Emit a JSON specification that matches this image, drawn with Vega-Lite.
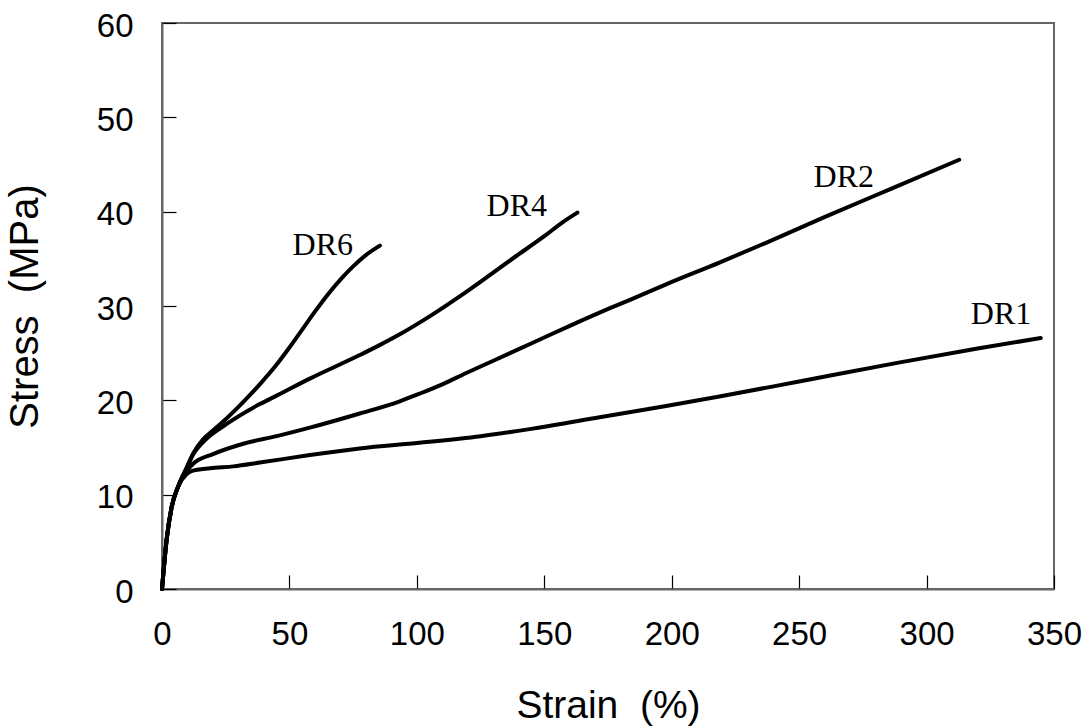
{
  "$schema": "https://vega.github.io/schema/vega-lite/v6.json",
  "autosize": "none",
  "width": 892,
  "height": 566,
  "padding": {"left": 162, "top": 23, "right": 32, "bottom": 138},
  "background": "white",
  "config": {
    "view": {"stroke": "#666666", "strokeWidth": 2},
    "axis": {
      "grid": false,
      "labelFont": "Liberation Sans",
      "labelFontSize": 33,
      "labelColor": "black",
      "labelFlush": false,
      "titleFont": "Liberation Sans",
      "titleFontSize": 39,
      "titleFontWeight": "normal",
      "titleColor": "black",
      "domainColor": "#666666",
      "domainWidth": 2,
      "tickColor": "black",
      "tickWidth": 1.2,
      "tickSize": -14,
      "labelPadding": 43
    }
  },
  "datasets": {
    "curves": [
      {"series": "DR1", "strain": 0, "stress": 0},
      {"series": "DR1", "strain": 1.8, "stress": 5.2},
      {"series": "DR1", "strain": 3.8, "stress": 8.7},
      {"series": "DR1", "strain": 6.4, "stress": 10.9},
      {"series": "DR1", "strain": 9.7, "stress": 12.2},
      {"series": "DR1", "strain": 11.6, "stress": 12.5},
      {"series": "DR1", "strain": 18.8, "stress": 12.8},
      {"series": "DR1", "strain": 28, "stress": 13.0},
      {"series": "DR1", "strain": 38.4, "stress": 13.4},
      {"series": "DR1", "strain": 58, "stress": 14.2},
      {"series": "DR1", "strain": 77.6, "stress": 14.9},
      {"series": "DR1", "strain": 101, "stress": 15.5},
      {"series": "DR1", "strain": 125, "stress": 16.2},
      {"series": "DR1", "strain": 145.5, "stress": 17.0},
      {"series": "DR1", "strain": 171.7, "stress": 18.2},
      {"series": "DR1", "strain": 197.8, "stress": 19.4},
      {"series": "DR1", "strain": 218.7, "stress": 20.4},
      {"series": "DR1", "strain": 250, "stress": 22.0},
      {"series": "DR1", "strain": 289, "stress": 24.0},
      {"series": "DR1", "strain": 320, "stress": 25.5},
      {"series": "DR1", "strain": 344.8, "stress": 26.6},

      {"series": "DR2", "strain": 0, "stress": 0},
      {"series": "DR2", "strain": 1.8, "stress": 5.2},
      {"series": "DR2", "strain": 3.8, "stress": 8.7},
      {"series": "DR2", "strain": 6.4, "stress": 10.9},
      {"series": "DR2", "strain": 9.7, "stress": 12.5},
      {"series": "DR2", "strain": 12.3, "stress": 13.3},
      {"series": "DR2", "strain": 20, "stress": 14.3},
      {"series": "DR2", "strain": 31.9, "stress": 15.4},
      {"series": "DR2", "strain": 45, "stress": 16.2},
      {"series": "DR2", "strain": 58, "stress": 17.1},
      {"series": "DR2", "strain": 77.6, "stress": 18.6},
      {"series": "DR2", "strain": 93.3, "stress": 19.9},
      {"series": "DR2", "strain": 101, "stress": 20.7},
      {"series": "DR2", "strain": 110, "stress": 21.7},
      {"series": "DR2", "strain": 119.4, "stress": 22.9},
      {"series": "DR2", "strain": 130, "stress": 24.2},
      {"series": "DR2", "strain": 145.5, "stress": 26.1},
      {"series": "DR2", "strain": 160, "stress": 27.9},
      {"series": "DR2", "strain": 171.7, "stress": 29.3},
      {"series": "DR2", "strain": 185, "stress": 30.8},
      {"series": "DR2", "strain": 197.8, "stress": 32.3},
      {"series": "DR2", "strain": 218.7, "stress": 34.6},
      {"series": "DR2", "strain": 237, "stress": 36.7},
      {"series": "DR2", "strain": 260.6, "stress": 39.5},
      {"series": "DR2", "strain": 286.7, "stress": 42.5},
      {"series": "DR2", "strain": 312.8, "stress": 45.5},

      {"series": "DR4", "strain": 0, "stress": 0},
      {"series": "DR4", "strain": 1.8, "stress": 5.2},
      {"series": "DR4", "strain": 3.8, "stress": 8.7},
      {"series": "DR4", "strain": 6.4, "stress": 10.9},
      {"series": "DR4", "strain": 9.7, "stress": 12.8},
      {"series": "DR4", "strain": 12.3, "stress": 14.3},
      {"series": "DR4", "strain": 16.2, "stress": 15.6},
      {"series": "DR4", "strain": 25.4, "stress": 17.5},
      {"series": "DR4", "strain": 38.4, "stress": 19.6},
      {"series": "DR4", "strain": 45, "stress": 20.5},
      {"series": "DR4", "strain": 58, "stress": 22.3},
      {"series": "DR4", "strain": 77.6, "stress": 24.8},
      {"series": "DR4", "strain": 85, "stress": 25.8},
      {"series": "DR4", "strain": 93.3, "stress": 27.0},
      {"series": "DR4", "strain": 105, "stress": 28.9},
      {"series": "DR4", "strain": 119.4, "stress": 31.5},
      {"series": "DR4", "strain": 139, "stress": 35.3},
      {"series": "DR4", "strain": 150, "stress": 37.4},
      {"series": "DR4", "strain": 157.3, "stress": 38.9},
      {"series": "DR4", "strain": 163, "stress": 39.9},

      {"series": "DR6", "strain": 0, "stress": 0},
      {"series": "DR6", "strain": 1.8, "stress": 5.2},
      {"series": "DR6", "strain": 3.8, "stress": 8.7},
      {"series": "DR6", "strain": 6.4, "stress": 10.9},
      {"series": "DR6", "strain": 9.7, "stress": 12.9},
      {"series": "DR6", "strain": 12.3, "stress": 14.4},
      {"series": "DR6", "strain": 16.2, "stress": 15.9},
      {"series": "DR6", "strain": 20, "stress": 16.8},
      {"series": "DR6", "strain": 25, "stress": 18.0},
      {"series": "DR6", "strain": 30, "stress": 19.3},
      {"series": "DR6", "strain": 35, "stress": 20.7},
      {"series": "DR6", "strain": 40, "stress": 22.2},
      {"series": "DR6", "strain": 45, "stress": 23.8},
      {"series": "DR6", "strain": 50, "stress": 25.6},
      {"series": "DR6", "strain": 55, "stress": 27.5},
      {"series": "DR6", "strain": 60, "stress": 29.4},
      {"series": "DR6", "strain": 65, "stress": 31.2},
      {"series": "DR6", "strain": 70, "stress": 32.8},
      {"series": "DR6", "strain": 75, "stress": 34.2},
      {"series": "DR6", "strain": 80, "stress": 35.4},
      {"series": "DR6", "strain": 85.5, "stress": 36.4}
    ],
    "labels": [
      {"series": "DR1", "strain": 329.2, "stress": 29.2},
      {"series": "DR2", "strain": 267.5, "stress": 43.7},
      {"series": "DR4", "strain": 139.2, "stress": 40.6},
      {"series": "DR6", "strain": 63.1, "stress": 36.5}
    ]
  },
  "layer": [
    {
      "data": {"name": "curves"},
      "mark": {"type": "line", "color": "black", "strokeWidth": 4, "interpolate": "monotone", "strokeCap": "round", "strokeJoin": "round"},
      "encoding": {
        "x": {
          "field": "strain", "type": "quantitative",
          "scale": {"domain": [0, 350], "nice": false},
          "axis": {"values": [0, 50, 100, 150, 200, 250, 300, 350], "title": "Strain\u00a0 (%)", "titlePadding": 35}
        },
        "y": {
          "field": "stress", "type": "quantitative",
          "scale": {"domain": [0, 60], "nice": false},
          "axis": {"values": [0, 10, 20, 30, 40, 50, 60], "title": "Stress\u00a0 (MPa)", "titlePadding": 51, "titleFontSize": 40, "labelOffset": 3}
        },
        "detail": {"field": "series"}
      }
    },
    {
      "data": {"name": "labels"},
      "mark": {"type": "text", "font": "Liberation Serif", "fontSize": 32, "color": "black", "align": "center", "baseline": "middle"},
      "encoding": {
        "x": {"field": "strain", "type": "quantitative"},
        "y": {"field": "stress", "type": "quantitative"},
        "text": {"field": "series"}
      }
    }
  ]
}
